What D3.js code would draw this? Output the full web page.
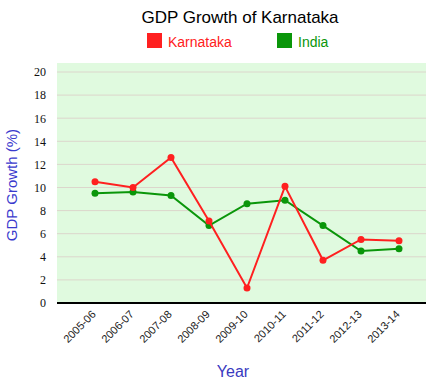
<!DOCTYPE html>
<html>
<head>
<meta charset="utf-8">
<script src="https://cdn.jsdelivr.net/npm/d3@7"></script>
<style>
  body { margin: 0; background: #fff; }
  svg { display: block; font-family: Arial, "Liberation Sans", sans-serif; }
</style>
</head>
<body>
<div id="chart"></div>
<script>
// chart data
const years = ["2005-06", "2006-07", "2007-08", "2008-09", "2009-10", "2010-11", "2011-12", "2012-13", "2013-14"];
const karnataka = [10.5, 10.0, 12.6, 7.1, 1.3, 10.1, 3.7, 5.5, 5.4];
const india = [9.5, 9.6, 9.3, 6.7, 8.6, 8.9, 6.7, 4.5, 4.7];
const yTicks = [0, 2, 4, 6, 8, 10, 12, 14, 16, 18, 20];

const seriesList = [
    { name: "Karnataka", values: karnataka, color: "#ff2020" },
    { name: "India", values: india, color: "#0a960a" }
];

const width = 442, height = 389;
const plot = { left: 57, right: 426, top: 63, bottom: 303 };

const svg = d3.select("#chart").append("svg")
    .attr("width", width)
    .attr("height", height);

// scales
let x = d3.scalePoint()
    .domain(years)
    .range([plot.left + 38, plot.right - 27]);

let y = d3.scaleLinear()
    .domain([0, 20])
    .range([plot.bottom, 72]);

// plot background
svg.append("rect")
    .attr("x", plot.left)
    .attr("y", plot.top)
    .attr("width", plot.right - plot.left)
    .attr("height", plot.bottom - plot.top)
    .attr("fill", "#e0fadf");

// grid lines
svg.append("g")
    .selectAll("line")
    .data(yTicks.filter(d => d > 0))
    .join("line")
    .attr("x1", plot.left)
    .attr("x2", plot.right)
    .attr("y1", d => y(d))
    .attr("y2", d => y(d))
    .attr("stroke", "#dcd6cc")
    .attr("stroke-width", 1);

// y axis labels (serif, like the original)
let yAxis = svg.append("g")
    .attr("transform", "translate(" + plot.left + ",0)")
    .call(d3.axisLeft(y).tickValues(yTicks).tickSize(0).tickPadding(11))
    .attr("font-family", "'Liberation Serif', 'DejaVu Serif', serif")
    .attr("font-size", 12);
yAxis.select(".domain").remove();
yAxis.selectAll("text")
    .attr("fill", "#111");

// x axis
let xAxis = svg.append("g")
    .attr("transform", "translate(0," + plot.bottom + ")")
    .call(d3.axisBottom(x).tickSize(0).tickPadding(0))
    .attr("font-family", "Arial, 'Liberation Sans', sans-serif")
    .attr("font-size", 11);
xAxis.select(".domain")
    .attr("d", "M" + plot.left + ",0H" + plot.right)
    .attr("stroke", "#000")
    .attr("stroke-width", 2);
xAxis.selectAll("text")
    .attr("fill", "#222")
    .attr("text-anchor", "end")
    .attr("dy", 0)
    .attr("transform", "translate(1,12) rotate(-45)");

// lines and points
const line = d3.line()
    .x((d, i) => x(years[i]))
    .y(d => y(d));

seriesList.slice().reverse().forEach(s => {
    svg.append("path")
        .datum(s.values)
        .attr("d", line)
        .attr("fill", "none")
        .attr("stroke", s.color)
        .attr("stroke-width", 2);
    svg.append("g")
        .selectAll("circle")
        .data(s.values)
        .join("circle")
        .attr("cx", (d, i) => x(years[i]))
        .attr("cy", d => y(d))
        .attr("r", 3.5)
        .attr("fill", s.color);
});

// title
svg.append("text")
    .attr("x", 240)
    .attr("y", 23)
    .attr("text-anchor", "middle")
    .style("font-size", "17px")
    .attr("fill", "#000")
    .text("GDP Growth of Karnataka");

// legend
const legendX = [147, 277];
let legend = svg.selectAll(".legend")
    .data(seriesList)
    .join("g")
    .attr("class", "legend")
    .attr("transform", (d, i) => "translate(" + legendX[i] + ",33)");
legend.append("rect")
    .attr("width", 15)
    .attr("height", 15)
    .attr("fill", d => d.color);
legend.append("text")
    .attr("x", 21)
    .attr("y", 14)
    .style("font-size", "14px")
    .attr("fill", d => d.color)
    .text(d => d.name);

// axis titles
svg.append("text")
    .attr("transform", "translate(17,185) rotate(-90)")
    .attr("text-anchor", "middle")
    .style("font-size", "15px")
    .attr("fill", "#3a3acd")
    .text("GDP Growth (%)");

svg.append("text")
    .attr("x", 233)
    .attr("y", 377)
    .attr("text-anchor", "middle")
    .style("font-size", "16px")
    .attr("fill", "#3a3abf")
    .text("Year");
</script>
</body>
</html>
